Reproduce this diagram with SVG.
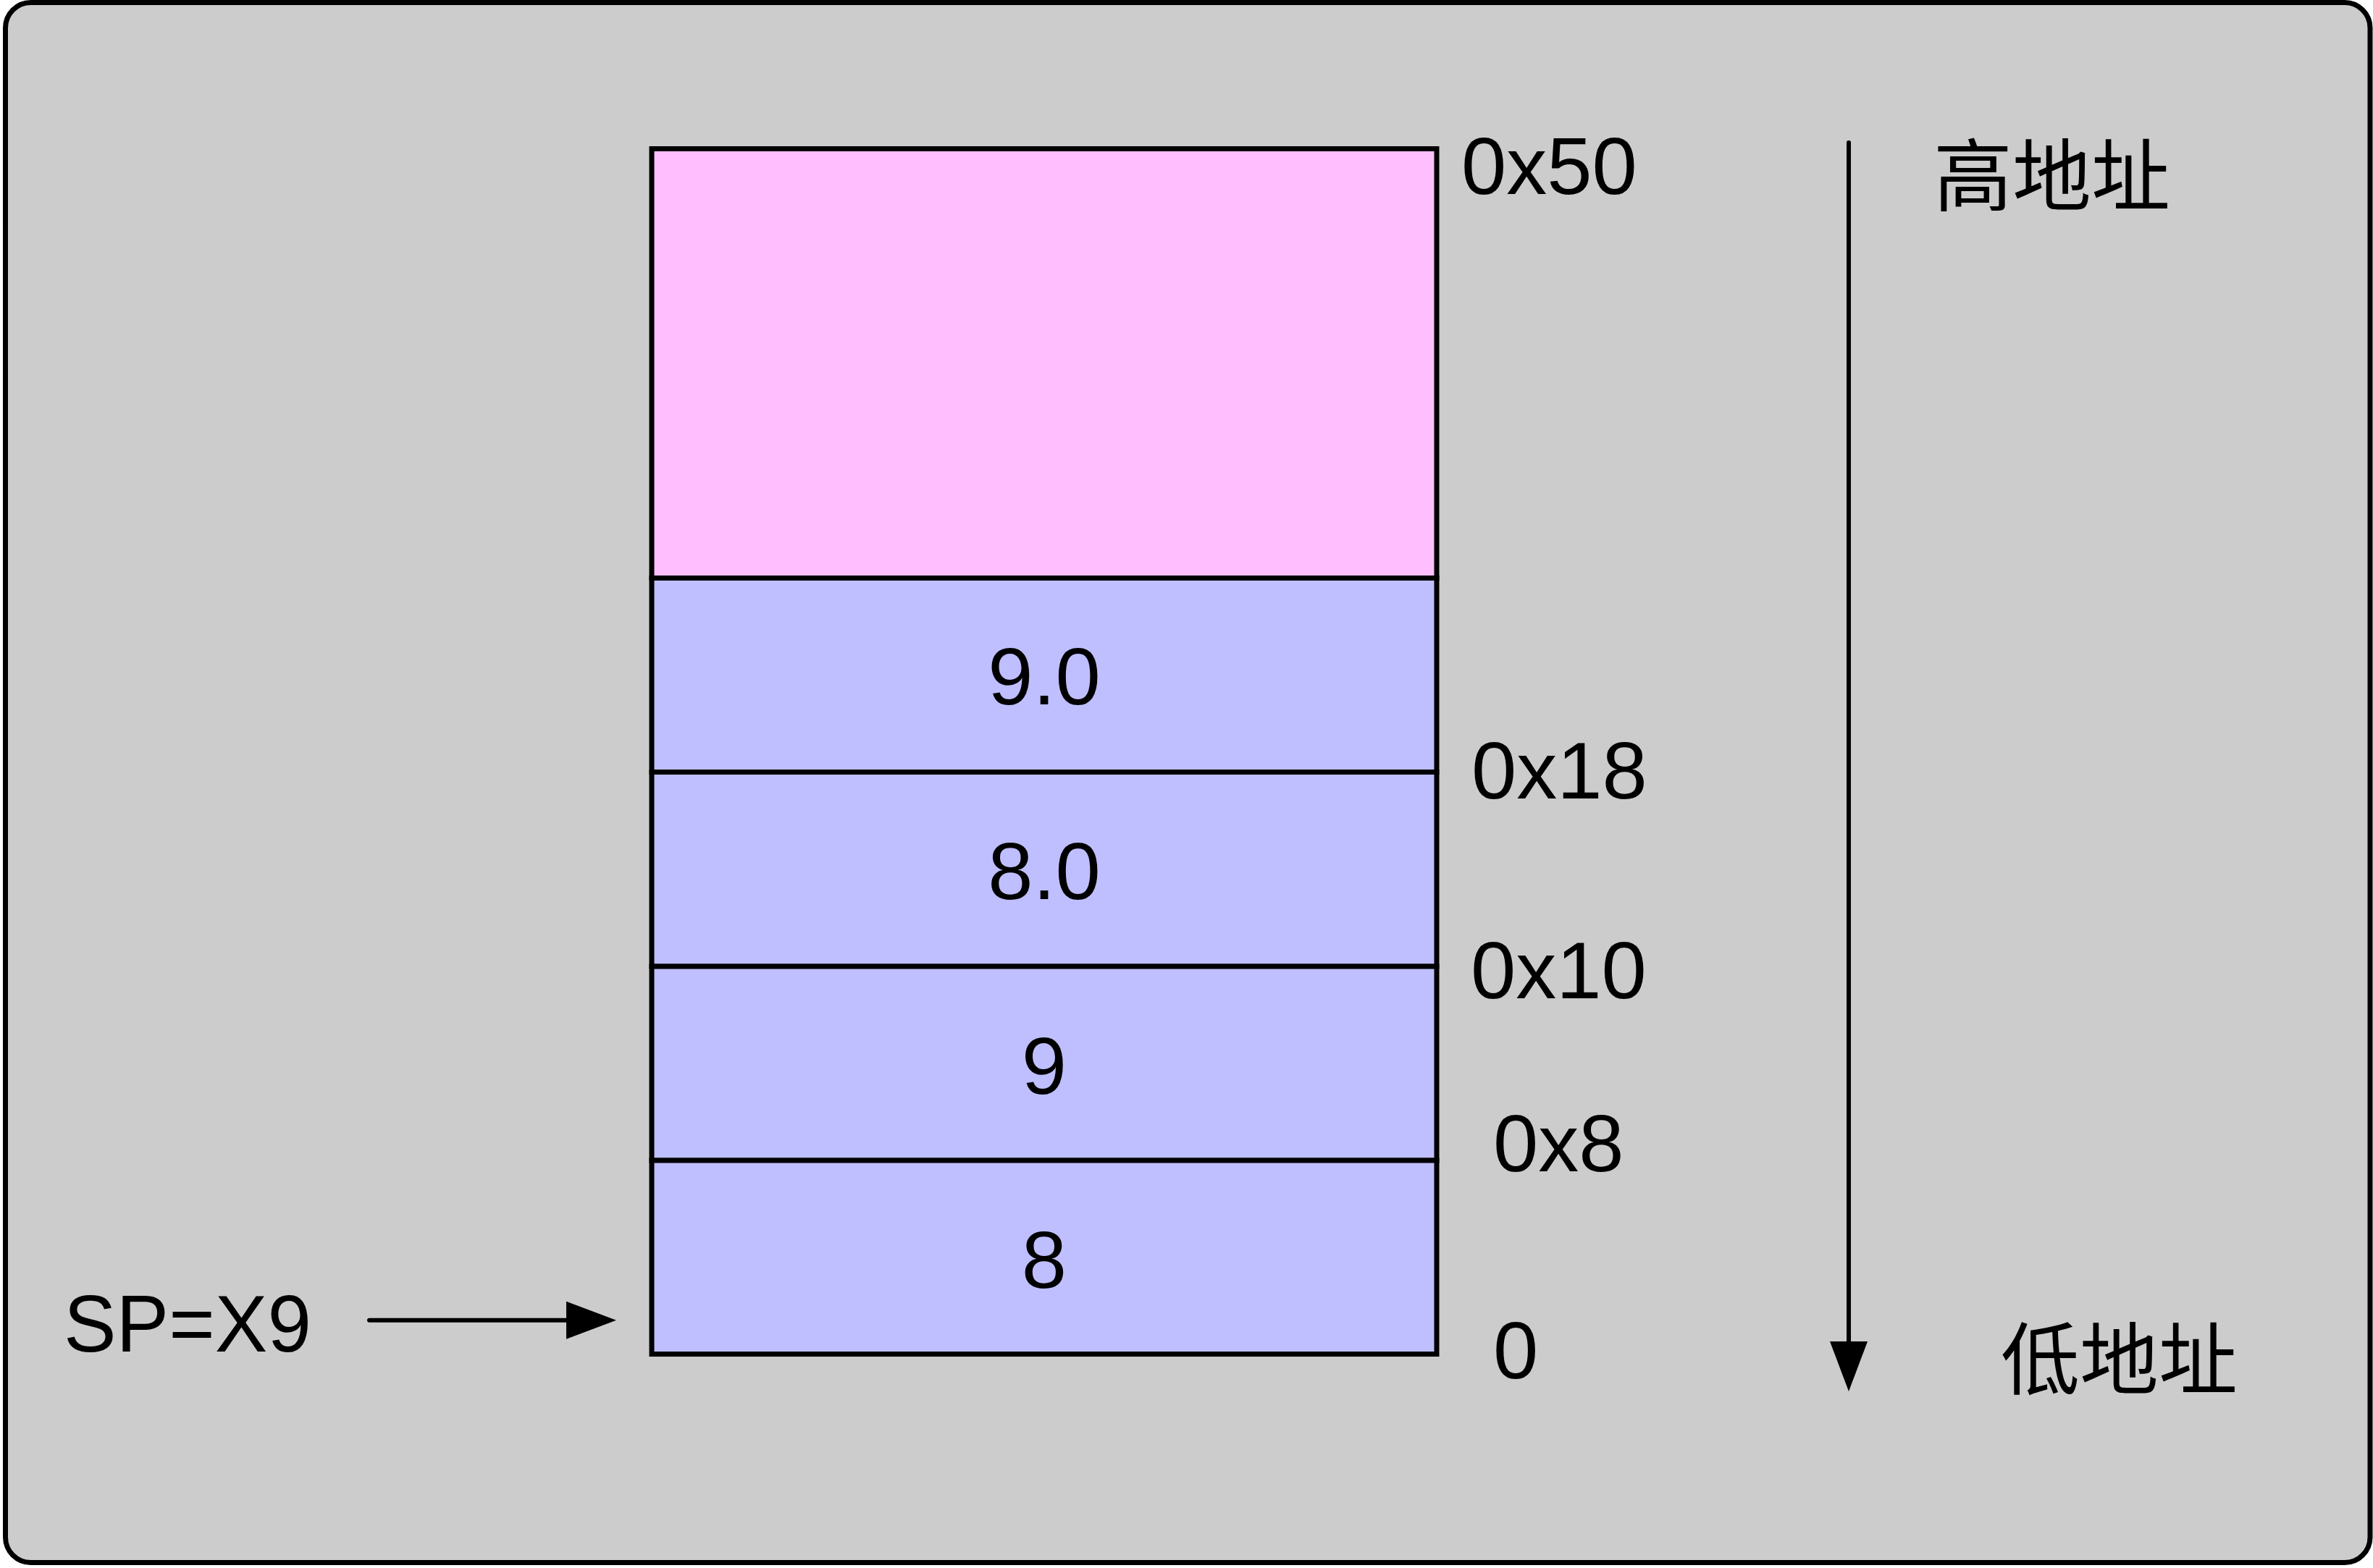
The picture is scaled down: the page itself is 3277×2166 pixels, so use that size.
<svg xmlns="http://www.w3.org/2000/svg" width="3277" height="2166" viewBox="0 0 3277 2166">
<style>
.t{font-family:"Liberation Sans",Arial,"Noto Sans CJK SC",sans-serif;font-size:112px;fill:#000}
.c{text-anchor:middle}
.cjk{font-family:"Noto Sans CJK SC","Liberation Sans",sans-serif;font-size:109px;fill:#000}
.cell{stroke:#000;stroke-width:7}
.conn{stroke:#000;stroke-width:6;fill:none}
</style>
<defs>
<marker id="ah" markerUnits="userSpaceOnUse" markerWidth="70" markerHeight="54" refX="0" refY="26" orient="auto" overflow="visible">
<path d="M0,0 L69,26 L0,52 Z" fill="#000"/>
</marker>
</defs>
<rect x="7.5" y="3.5" width="3265.5" height="2155" rx="35" ry="35" fill="#cccccc" stroke="#000" stroke-width="7"/>
<g id="stack">
<g id="cell-top"><rect class="cell" x="900" y="205.5" width="1084" height="593" fill="#ffbfff"/></g>
<g id="cell-90"><rect class="cell" x="900" y="798.5" width="1084" height="268" fill="#bfbfff"/><text class="t c" x="1442" y="973">9.0</text></g>
<g id="cell-80"><rect class="cell" x="900" y="1066.5" width="1084" height="268.5" fill="#bfbfff"/><text class="t c" x="1442" y="1242">8.0</text></g>
<g id="cell-9"><rect class="cell" x="900" y="1335" width="1084" height="268" fill="#bfbfff"/><text class="t c" x="1442" y="1511">9</text></g>
<g id="cell-8"><rect class="cell" x="900" y="1603" width="1084" height="267.5" fill="#bfbfff"/><text class="t c" x="1442" y="1779">8</text></g>
</g>
<g id="addr-labels">
<text class="t" x="2018" y="268">0x50</text>
<text class="t" x="2032" y="1103">0x18</text>
<text class="t" x="2031" y="1379">0x10</text>
<text class="t" x="2062" y="1618">0x8</text>
<text class="t" x="2062" y="1904">0</text>
</g>
<g id="sp-label"><text class="t" x="88" y="1867" font-size="110" textLength="342" lengthAdjust="spacingAndGlyphs">SP=X9</text></g>
<g id="high-label"><text class="cjk" x="2670" y="283">高地址</text></g>
<g id="low-label"><text class="cjk" x="2763" y="1918">低地址</text></g>
<g id="connectors">
<line class="conn" x1="510" y1="1823.7" x2="782" y2="1823.7" stroke-linecap="round" marker-end="url(#ah)"/>
<line class="conn" x1="2553" y1="197" x2="2553" y2="1853" stroke-linecap="round" marker-end="url(#ah)"/>
</g>
</svg>
